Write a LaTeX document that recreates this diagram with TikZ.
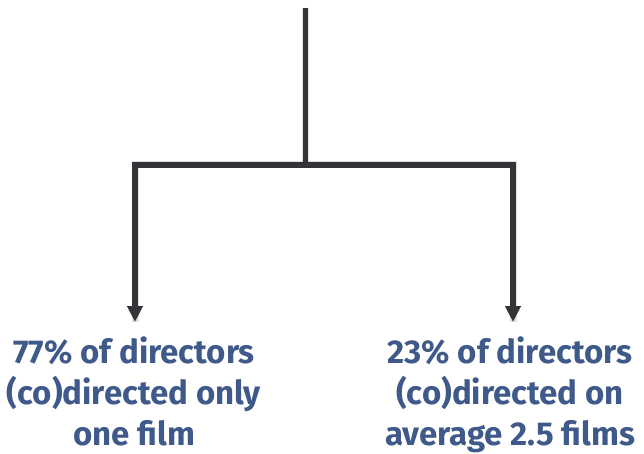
\documentclass[tikz,border=0pt]{standalone}
\usepackage{fontspec}
\setmainfont{Fira Sans}
\usetikzlibrary{arrows.meta}
\definecolor{txtblue}{HTML}{3F5A8A}
\definecolor{linegray}{HTML}{333338}
\tikzset{
  conn/.style={draw=linegray, line width=5.5pt},
  shadowline/.style={draw=black, opacity=0.12, line width=7pt},
  lbl/.style={text=txtblue, font=\fontsize{33}{41}\selectfont\bfseries, align=center, anchor=north, inner sep=0pt},
  tip/.style={-{Triangle[length=16pt,width=15pt]}}
}
\begin{document}
\begin{tikzpicture}[x=1pt,y=-1pt]
\useasboundingbox (0,0) rectangle (644,454);
\coordinate (top) at (305.7,8);
\coordinate (mid) at (305.7,165);
\coordinate (lc) at (135,165);
\coordinate (rc) at (513,165);
\coordinate (lt) at (135,322);
\coordinate (rt) at (513,322);
% shadows
\begin{scope}[shift={(2,3)}]
\draw[shadowline] (top) -- (mid);
\draw[shadowline, line join=miter] (lt) -- (lc) -- (rc) -- (rt);
\end{scope}
\draw[conn] (top) -- (mid);
\draw[conn, tip, line join=miter] (mid) -- (lc) -- (lt);
\draw[conn, tip, line join=miter] (mid) -- (rc) -- (rt);
\node[lbl] (left) at (134,337) {77\% of directors\\(co)directed only\\one film};
\node[lbl] (right) at (510,337) {23\% of directors\\(co)directed on\\average 2.5 films};
\end{tikzpicture}
\end{document}
